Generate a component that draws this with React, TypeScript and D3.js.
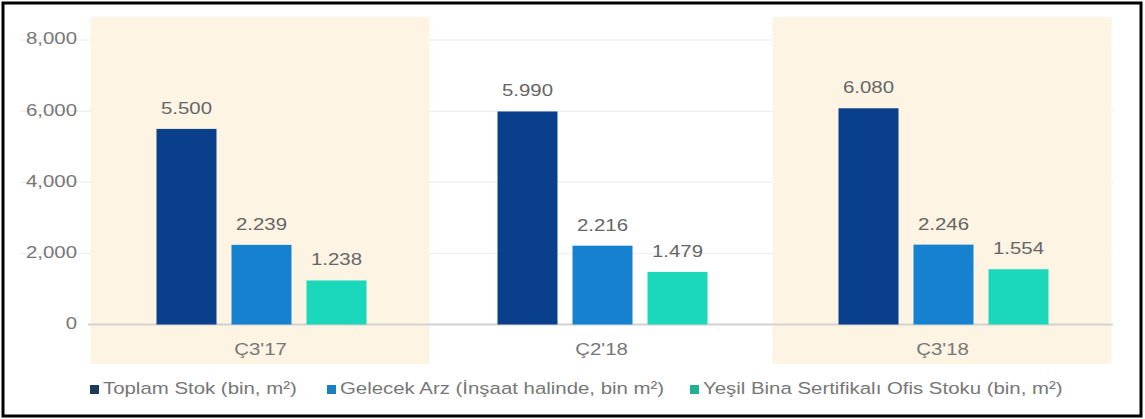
import React from "react";
import * as d3 from "d3";

const categories = ["Ç3'17", "Ç2'18", "Ç3'18"];
const seriesNames = [
  "Toplam Stok (bin, m²)",
  "Gelecek Arz (İnşaat halinde, bin m²)",
  "Yeşil Bina Sertifikalı Ofis Stoku (bin, m²)",
];
const toplamStok = [5500, 5990, 6080];
const gelecekArz = [2239, 2216, 2246];
const yesilBina = [1238, 1479, 1554];
const valueLabels = [
  ["5.500", "5.990", "6.080"],
  ["2.239", "2.216", "2.246"],
  ["1.238", "1.479", "1.554"],
];
const yTicks = [0, 2000, 4000, 6000, 8000];
const yTickLabels = ["0", "2,000", "4,000", "6,000", "8,000"];
const shadedCategories = ["Ç3'17", "Ç3'18"];

const seriesValues = [toplamStok, gelecekArz, yesilBina];
const barColors = ["#0a3f8b", "#1681cf", "#1cd8bb"];
const legendColors = ["#1c3a5c", "#1a7fc2", "#22b092"];

const W = 1145;
const H = 419;
const FONT = "'Liberation Sans', Arial, sans-serif";
const SX = 1.2;

export default function App() {
  const x = d3.scaleBand<string>().domain(categories).range([90, 1113]).padding(0);
  const inner = d3
    .scaleBand<number>()
    .domain([0, 1, 2])
    .range([-104, 106])
    .paddingInner(0.2)
    .paddingOuter(0);
  const y = d3.scaleLinear().domain([0, 8000]).range([324.5, 40]);

  const legendX = [90, 327, 690];

  return (
    <svg
      width={W}
      height={H}
      style={{ position: "absolute", left: 0, top: 0, background: "#fff" }}
      fontFamily={FONT}
    >
      <rect x={0} y={0} width={W} height={H} fill="#fff" />
      {yTicks.slice(1).map((t) => (
        <line key={t} x1={20} x2={1113} y1={y(t)} y2={y(t)} stroke="#f1f1f1" strokeWidth={1.5} />
      ))}
      {shadedCategories.map((c) => {
        const cx = (x(c) as number) + x.bandwidth() / 2;
        return <rect key={c} x={cx - 170} y={17} width={339} height={347} fill="#fdf4e4" />;
      })}
      <line x1={88} x2={1113} y1={y(0)} y2={y(0)} stroke="#d2d2d2" strokeWidth={2} />
      {yTicks.map((t, i) => (
        <text
          key={t}
          transform={`translate(77,${y(t)}) scale(${SX},1)`}
          textAnchor="end"
          dominantBaseline="middle"
          fontSize={17}
          fill="#777"
        >
          {yTickLabels[i]}
        </text>
      ))}
      {categories.map((c, ci) => {
        const cx = (x(c) as number) + x.bandwidth() / 2;
        return (
          <g key={c}>
            {seriesValues.map((vals, si) => {
              const bx = cx + (inner(si) as number);
              const bw = inner.bandwidth();
              const v = vals[ci];
              return (
                <g key={si}>
                  <rect x={bx} y={y(v)} width={bw} height={y(0) - y(v)} fill={barColors[si]} />
                  <text
                    transform={`translate(${bx + bw / 2},${y(v) - 15}) scale(${SX},1)`}
                    textAnchor="middle"
                    fontSize={17}
                    fill="#666"
                  >
                    {valueLabels[si][ci]}
                  </text>
                </g>
              );
            })}
            <text
              transform={`translate(${cx},355) scale(${SX},1)`}
              textAnchor="middle"
              fontSize={17}
              fill="#777"
            >
              {c}
            </text>
          </g>
        );
      })}
      {seriesNames.map((n, i) => (
        <g key={n}>
          <rect x={legendX[i]} y={385} width={9} height={9} fill={legendColors[i]} />
          <text
            transform={`translate(${legendX[i] + 13},394) scale(${SX},1)`}
            fontSize={17}
            fill="#777"
          >
            {n}
          </text>
        </g>
      ))}
      <rect x={3} y={3} width={1138} height={413} fill="none" stroke="#000" strokeWidth={3} />
    </svg>
  );
}
